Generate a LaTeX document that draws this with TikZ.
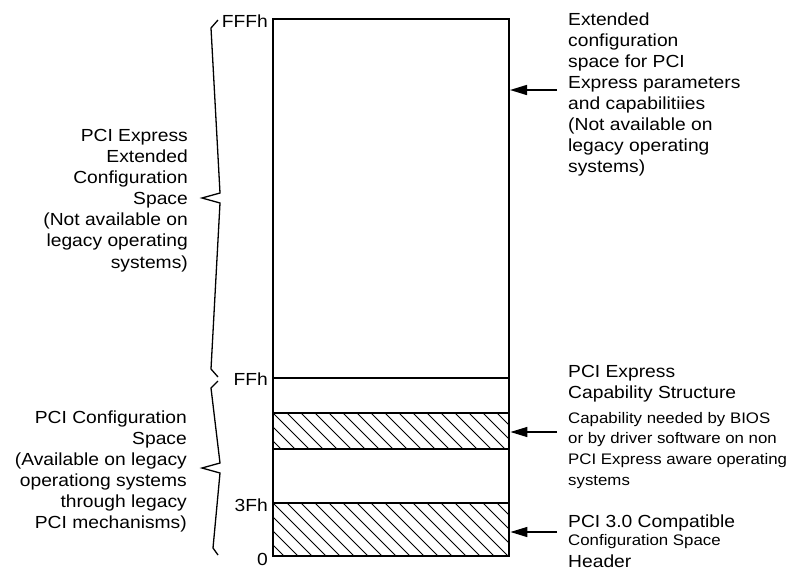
\documentclass[tikz,border=0pt]{standalone}
\usepackage{fontspec}
\setmainfont{Liberation Sans}[FakeStretch=1.1]
\usetikzlibrary{arrows.meta}
\newcommand\bigtxt{\fontsize{17.5}{21.1}\selectfont}
\newcommand\smalltxt{\fontsize{15.3}{20.7}\selectfont}
\begin{document}
\begin{tikzpicture}[x=1pt,y=-1pt,
  lbl/.style={font=\bigtxt, inner sep=0pt},
  brace/.style={line width=1.3pt, line join=miter},
  arr/.style={line width=1.5pt, -{Triangle[length=17pt,width=10pt]}},
  hatchbox/.style={draw, line width=2.8pt, inner sep=0pt, minimum width=236pt,
    path picture={\foreach \i in {-70,-56,...,250}
      \draw[line width=0.8pt] ([xshift=\i pt]path picture bounding box.north west) -- ++(70pt,-70pt);}},
]
\useasboundingbox (0,0) rectangle (789,571);

% outline of the configuration space
\node[draw, line width=2pt, inner sep=0pt, minimum width=236pt, minimum height=537pt] (outer) at (391,287.5) {};
\coordinate (ffh) at (391,378);
\draw[line width=1.5pt] (outer.west |- ffh) -- (outer.east |- ffh);

% hatched structures
\node[hatchbox, minimum height=36pt] (capbox) at (391,431) {};
\node[hatchbox, minimum height=53pt] (hdrbox) at (391,529.5) {};

% braces
\draw[brace] (218,20) -- (211,28) -- (220,193) -- (202,198) -- (220,203) -- (211,369) -- (218,377);
\draw[brace] (218,381) -- (211,388) -- (220,463) -- (202,468) -- (220,473) -- (213,548) -- (218,555);

% address labels
\node[lbl, anchor=east] (lFFF) at (268,21) {FFFh};
\node[lbl, anchor=east] (lFF) at (268,379) {FFh};
\node[lbl, anchor=east] (l3F) at (268,505) {3Fh};
\node[lbl, anchor=east] (l0) at (268,559) {0};

% left descriptions
\node[lbl, align=right, anchor=north east] (pcie) at (188,129)
  {PCI Express\\Extended\\Configuration\\Space\\(Not available on\\legacy operating\\systems)};
\node[lbl, align=right, anchor=north east] (pcic) at (187,410.6)
  {PCI Configuration\\Space\\(Available on legacy\\operationg systems\\through legacy\\PCI mechanisms)};

% right descriptions
\node[lbl, align=left, anchor=north west] (extd) at (568,12.3)
  {Extended\\configuration\\space for PCI\\Express parameters\\and capabilitiies\\(Not available on\\legacy operating\\systems)};
\node[lbl, align=left, anchor=north west] (capt) at (568,365.4)
  {PCI Express\\Capability Structure};
\node[lbl, font=\smalltxt, align=left, anchor=north west] (capd) at (568,411.8)
  {Capability needed by BIOS\\or by driver software on non\\PCI Express aware operating\\systems};
\node[lbl, align=left, anchor=north west] (hdrt) at (568,514.4)
  {PCI 3.0 Compatible\\[-3pt]{\smalltxt Configuration Space}\\[1pt]Header};

% arrows
\coordinate (a1) at (557,90);
\draw[arr] (a1) -- (a1 -| outer.east);
\coordinate (a2) at (557,432);
\draw[arr] (a2) -- (a2 -| capbox.east);
\coordinate (a3) at (557,532);
\draw[arr] (a3) -- (a3 -| hdrbox.east);
\end{tikzpicture}
\end{document}
